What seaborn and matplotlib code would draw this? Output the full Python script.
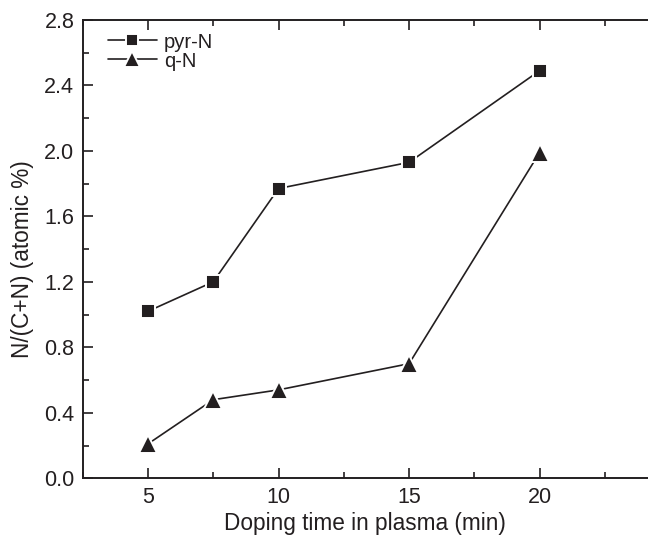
import matplotlib
matplotlib.use("Agg")
import matplotlib.pyplot as plt
import pandas as pd
import seaborn as sns
from matplotlib.ticker import MultipleLocator, FormatStrFormatter

doping_time = [5, 7.5, 10, 15, 20]
pyr_n = [1.02, 1.20, 1.77, 1.93, 2.49]
q_n = [0.21, 0.48, 0.54, 0.70, 1.99]
series_names = ["pyr-N", "q-N"]

df = pd.concat(
    [
        pd.DataFrame({"time": doping_time, "value": pyr_n, "species": series_names[0]}),
        pd.DataFrame({"time": doping_time, "value": q_n, "species": series_names[1]}),
    ],
    ignore_index=True,
)

INK = "#231f20"
marker_sizes = {"pyr-N": 9.5, "q-N": 13}

sns.set_theme(style="white")
plt.rcParams["font.family"] = ["Liberation Sans", "DejaVu Sans"]

fig = plt.figure(figsize=(6.48, 5.38), dpi=100)
ax = fig.add_axes([0.1276, 0.1110, 0.8724, 0.8520])

sns.lineplot(
    data=df,
    x="time",
    y="value",
    hue="species",
    style="species",
    markers={"pyr-N": "s", "q-N": "^"},
    dashes=False,
    palette={"pyr-N": INK, "q-N": INK},
    linewidth=1.2,
    markeredgecolor="white",
    markeredgewidth=1.4,
    ax=ax,
    legend=False,
)

# solid black faces, white rim gives the small gap between line and marker
for line, name in zip(ax.get_lines(), series_names):
    line.set_markerfacecolor(INK)
    line.set_markersize(marker_sizes[name])
    line.set_label(name)

ax.set_xlim(2.5, 24.15)
ax.set_ylim(0.0, 2.8)
ax.xaxis.set_major_locator(MultipleLocator(5))
ax.xaxis.set_minor_locator(MultipleLocator(2.5))
ax.yaxis.set_major_locator(MultipleLocator(0.4))
ax.yaxis.set_minor_locator(MultipleLocator(0.2))
ax.yaxis.set_major_formatter(FormatStrFormatter("%.1f"))

ax.tick_params(axis="both", which="major", direction="in", length=7, width=1.2,
               labelsize=15.5, colors=INK, pad=6)
ax.tick_params(axis="both", which="minor", direction="in", length=4, width=1.2, colors=INK)
ax.tick_params(axis="x", which="both", bottom=True, top=True)
ax.tick_params(axis="y", which="both", left=True, right=False)

for side in ["left", "bottom", "top"]:
    ax.spines[side].set_color(INK)
    ax.spines[side].set_linewidth(1.4)
ax.spines["right"].set_visible(False)

ax.set_xlabel("Doping time in plasma (min)", fontsize=16.3, color=INK, labelpad=3)
ax.set_ylabel("N/(C+N) (atomic %)", fontsize=16.3, color=INK)
ax.yaxis.set_label_coords(-0.086, 0.478)

leg = ax.legend(
    loc="upper left",
    bbox_to_anchor=(0.031, 0.99),
    borderaxespad=0.0,
    frameon=False,
    fontsize=14.5,
    handlelength=2.4,
    handletextpad=0.35,
    labelspacing=0.0,
)
for text in leg.get_texts():
    text.set_color(INK)
for handle, name in zip(leg.legend_handles, series_names):
    handle.set_markersize(marker_sizes[name] - 1)

fig.savefig("out.png", dpi=100)
